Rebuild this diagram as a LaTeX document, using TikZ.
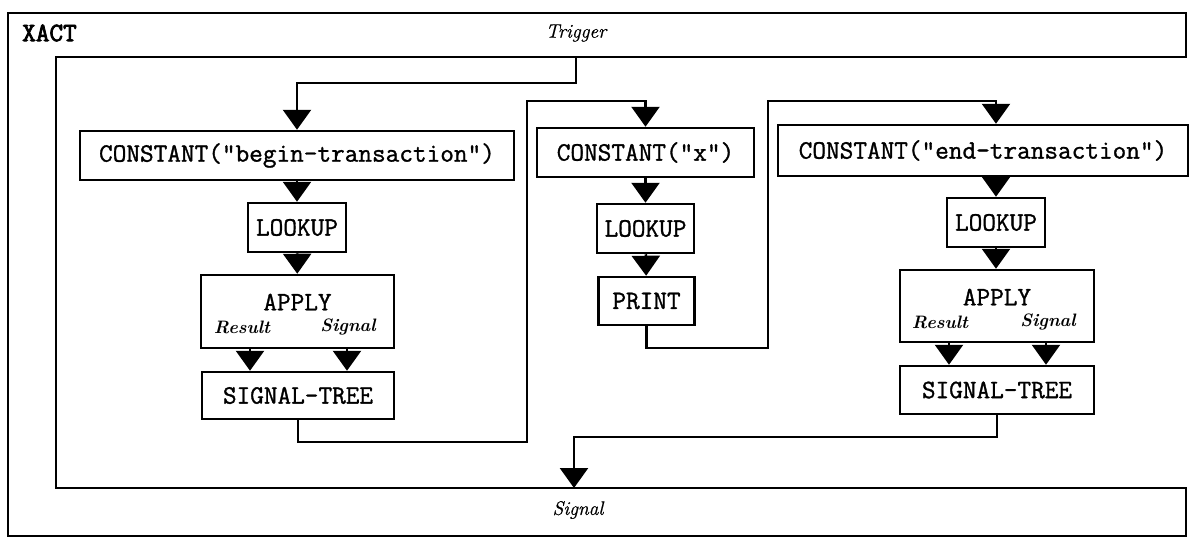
\documentclass[tikz,border=0pt]{standalone}
\usepackage{fontspec}
\usetikzlibrary{arrows.meta}
\newfontfamily\ttmed{Latin Modern Mono}[FakeBold=1.2]
\newfontfamily\ttheavy{Latin Modern Mono}[FakeBold=3]
\newfontfamily\rmmed{Latin Modern Roman}[FakeBold=0.8]
\newcommand\monobig{\fontsize{26.5}{30}\selectfont\ttmed}
\newcommand\itsmall{\fontsize{19.5}{23}\selectfont\rmmed\itshape}
\newcommand\itbold{\fontsize{18}{21}\selectfont\bfseries\itshape}
\tikzset{
  box/.style={draw, line width=2.5pt, inner sep=0pt, font=\monobig},
  arr/.style={line width=2.5pt, -{Triangle[width=28pt,length=20pt]}},
  ln/.style={line width=2.5pt},
  lbl/.style={inner sep=0pt, font=\itsmall},
  port/.style={inner sep=0pt, font=\itbold},
  txt/.style={inner sep=0pt, font=\monobig},
}
\begin{document}
\begin{tikzpicture}[x=1pt,y=-1pt]
\useasboundingbox (0,0) rectangle (1191,538);
% outer XACT frame with Trigger and Signal bars
\draw[ln] (1186,488) -- (56,488) -- (56,57) -- (1186,57) -- (1186,13) -- (8,13) -- (8,536) -- (1186,536) -- cycle;
\node[inner sep=0pt, anchor=west, font=\fontsize{26.5}{30}\selectfont\ttheavy] (xact) at (22,33) {XACT};
\node[lbl] (trigger) at (576,33) {Trigger};
\node[lbl] (signal) at (578,510) {Signal};
\coordinate (trig) at (576,57);
\coordinate (t0) at (576,83);
\coordinate (b1) at (527,442);
\coordinate (t1) at (527,101);
\coordinate (b2) at (768,348);
\coordinate (t2) at (768,101);
\coordinate (b3) at (574,437);
\coordinate (sig) at (574,488);
% column 1
\node[box, minimum width=434pt, minimum height=49pt] (begin) at (297,155.5) {CONSTANT("begin-transaction")};
\node[box, minimum width=98pt, minimum height=49pt] (lk1) at (297,227.5) {LOOKUP};
\node[box, minimum width=193pt, minimum height=73pt] (ap1) at (297.5,311.5) {};
\node[txt] (ap1t) at (297.5,302) {APPLY};
\node[port] (ap1r) at (242,327) {Result};
\node[port] (ap1s) at (348,327) {Signal};
\node[box, minimum width=192pt, minimum height=47pt] (st1) at (298,395.5) {SIGNAL-TREE};
% column 2
\node[box, minimum width=217pt, minimum height=49pt] (constx) at (645.5,152.5) {CONSTANT("x")};
\node[box, minimum width=97pt, minimum height=49pt] (lk2) at (645.5,228.5) {LOOKUP};
\node[box, minimum width=96pt, minimum height=48pt] (pr) at (646.5,301) {PRINT};
% column 3
\node[box, minimum width=410pt, minimum height=51pt] (endc) at (983,150.5) {CONSTANT("end-transaction")};
\node[box, minimum width=98pt, minimum height=49pt] (lk3) at (996,222.5) {LOOKUP};
\node[box, minimum width=194pt, minimum height=72pt] (ap3) at (997,306) {};
\node[txt] (ap3t) at (997,297) {APPLY};
\node[port] (ap3r) at (940,322) {Result};
\node[port] (ap3s) at (1048,322) {Signal};
\node[box, minimum width=194pt, minimum height=48pt] (st3) at (997,390) {SIGNAL-TREE};
% connectors
\draw[arr] (trig) -- (t0) -| (begin.north);
\draw[arr] (begin) -- (lk1);
\draw[arr] (lk1) -- (ap1);
\draw[arr] ([xshift=-47.5pt]ap1.south) -- ([xshift=-48pt]st1.north);
\draw[arr] ([xshift=49.5pt]ap1.south) -- ([xshift=49pt]st1.north);
\draw[arr] (st1.south) |- (b1) -- (t1) -| (constx.north);
\draw[arr] (constx) -- (lk2);
\draw[arr] (lk2) -- (pr);
\draw[arr] (pr.south) |- (b2) -- (t2) -| (lk3 |- endc.north);
\draw[arr] (lk3 |- endc.south) -- (lk3);
\draw[arr] (lk3) -- (lk3 |- ap3.north);
\draw[arr] ([xshift=-48pt]ap3.south) -- ([xshift=-48pt]st3.north);
\draw[arr] ([xshift=49pt]ap3.south) -- ([xshift=49pt]st3.north);
\draw[arr] (st3.south) |- (b3) -- (sig);
\end{tikzpicture}
\end{document}
